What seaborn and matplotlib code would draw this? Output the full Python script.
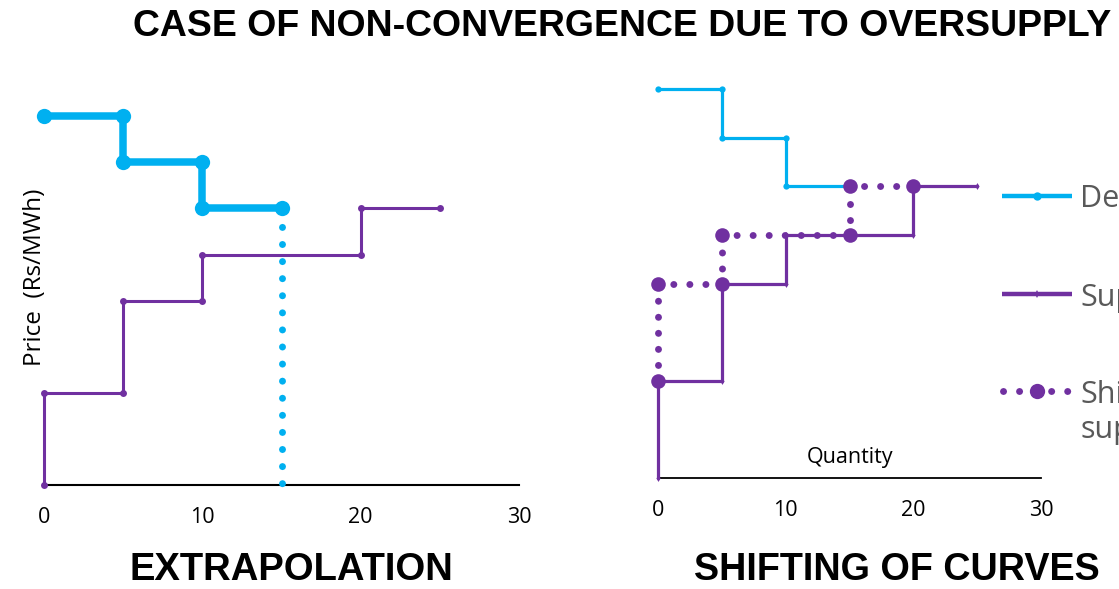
import matplotlib
matplotlib.use("Agg")
import matplotlib.pyplot as plt
import seaborn as sns
from matplotlib.lines import Line2D

# ---------------- data ----------------
demand_q = [0, 5, 5, 10, 10, 15]
demand_p = [8, 8, 7, 7, 6, 6]
supply_q = [0, 0, 5, 5, 10, 10, 20, 20, 25]
supply_p = [0, 2, 2, 4, 4, 5, 5, 6, 6]
extrap_q = [15, 15]
extrap_p = [6, 0]
shifted_q = [0, 0, 5, 5, 15, 15, 20]
shifted_p = [2, 4, 4, 5, 5, 6, 6]
x_ticks = [0, 10, 20, 30]
legend_labels = ["Demand", "Supply", "Shifted", "supply"]
title = "CASE OF NON-CONVERGENCE DUE TO OVERSUPPLY"
left_title = "EXTRAPOLATION"
right_title = "SHIFTING OF CURVES"
y_label = "Price  (Rs/MWh)"
x_label = "Quantity"

CYAN = "#00B0F0"
PURPLE = "#7030A0"

sns.set_theme(style="white")
plt.rcParams["font.family"] = ["Open Sans", "DejaVu Sans"]

W, H = 1119, 589
fig = plt.figure(figsize=(W / 100, H / 100), dpi=100)


def fx(x):
    return x / W


def fy(y):
    return 1 - y / H


def make_ax(x0, x1, y0, ytop):
    ax = fig.add_axes([fx(x0), fy(y0), (x1 - x0) / W, (y0 - ytop) / H])
    ax.set_xlim(0, 30)
    ax.set_ylim(0, 9)
    for s in ["left", "top", "right"]:
        ax.spines[s].set_visible(False)
    ax.spines["bottom"].set_color("black")
    ax.spines["bottom"].set_linewidth(1.5)
    ax.set_xticks(x_ticks)
    ax.set_xticklabels([str(t) for t in x_ticks])
    ax.set_yticks([])
    ax.tick_params(axis="x", length=0, pad=15.5, labelsize=15.5, labelcolor="black")
    ax.set_xlabel("")
    ax.set_ylabel("")
    ax.patch.set_alpha(0)
    return ax


# ---------------- left panel ----------------
axL = make_ax(44, 519, 485, 485 - 9 * 46.1)
sns.lineplot(x=demand_q, y=demand_p, sort=False, estimator=None, ax=axL,
             color=CYAN, linewidth=5.4, marker="o", markersize=11,
             markeredgewidth=0, clip_on=False, zorder=4)
sns.lineplot(x=supply_q, y=supply_p, sort=False, estimator=None, ax=axL,
             color=PURPLE, linewidth=2.2, marker="o", markersize=5,
             markeredgewidth=0, clip_on=False, zorder=3)
sns.lineplot(x=extrap_q, y=extrap_p, sort=False, estimator=None, ax=axL,
             color=CYAN, linewidth=5.0, linestyle=(2.2, (0.01, 2.45)),
             dash_capstyle="round", clip_on=False, zorder=5)
axL.text(-0.018, 0.5, y_label, transform=axL.transAxes, rotation=90,
         ha="center", va="center", fontsize=17.5, color="black")

# ---------------- right panel ----------------
axR = make_ax(658, 1041, 478, 478 - 9 * 48.6)
axR.spines["bottom"].set_linewidth(1.3)
sns.lineplot(x=demand_q, y=demand_p, sort=False, estimator=None, ax=axR,
             color=CYAN, linewidth=2.3, marker="o", markersize=4.5,
             markeredgewidth=0, clip_on=False, zorder=3)
sns.lineplot(x=supply_q, y=supply_p, sort=False, estimator=None, ax=axR,
             color=PURPLE, linewidth=2.3, marker="d", markersize=3.5,
             markeredgewidth=0, clip_on=False, zorder=3)
sns.lineplot(x=shifted_q, y=shifted_p, sort=False, estimator=None, ax=axR,
             color=PURPLE, linewidth=5.0, linestyle=(0, (0.01, 2.3)),
             dash_capstyle="round", marker="o", markersize=10.5,
             markeredgewidth=0, clip_on=False, zorder=4)
axR.text(0.5, (478 - 458) / (9 * 48.6), x_label, transform=axR.transAxes,
         ha="center", va="center", fontsize=15.5, color="black")

# ---------------- legend (manual, figure coords) ----------------
lx0, lx1, lxm = fx(1002), fx(1072), fx(1037)
ys = [196, 294, 391]
fig.add_artist(Line2D([lx0, lx1], [fy(ys[0])] * 2, color=CYAN, linewidth=3.2,
                      solid_capstyle="butt", transform=fig.transFigure))
fig.add_artist(Line2D([lxm], [fy(ys[0])], color=CYAN, marker="o", markersize=6,
                      markeredgewidth=0, transform=fig.transFigure))
fig.add_artist(Line2D([lx0, lx1], [fy(ys[1])] * 2, color=PURPLE, linewidth=3.2,
                      solid_capstyle="butt", transform=fig.transFigure))
fig.add_artist(Line2D([lxm], [fy(ys[1])], color=PURPLE, marker="d", markersize=4,
                      markeredgewidth=0, transform=fig.transFigure))
fig.add_artist(Line2D([fx(1003), fx(1070)], [fy(ys[2])] * 2, color=PURPLE,
                      linewidth=5.0, linestyle=(0, (0.01, 2.3)),
                      dash_capstyle="round", transform=fig.transFigure))
fig.add_artist(Line2D([lxm], [fy(ys[2])], color=PURPLE, marker="o", markersize=11,
                      markeredgewidth=0, transform=fig.transFigure))
for lab, yb in zip(legend_labels, [207, 306, 403, 438]):
    fig.text(fx(1080), fy(yb), lab, ha="left", va="baseline", fontsize=22,
             color="#595959")

# ---------------- titles ----------------
bold = dict(family=["Liberation Sans", "DejaVu Sans"], weight="bold",
            color="black", ha="center", va="center")
fig.text(fx(622), fy(27), title, fontsize=26.9, **bold)
fig.text(fx(291), fy(570), left_title, fontsize=27.5, **bold)
fig.text(fx(897), fy(570), right_title, fontsize=27.2, **bold)

fig.savefig("out.png", dpi=100)
